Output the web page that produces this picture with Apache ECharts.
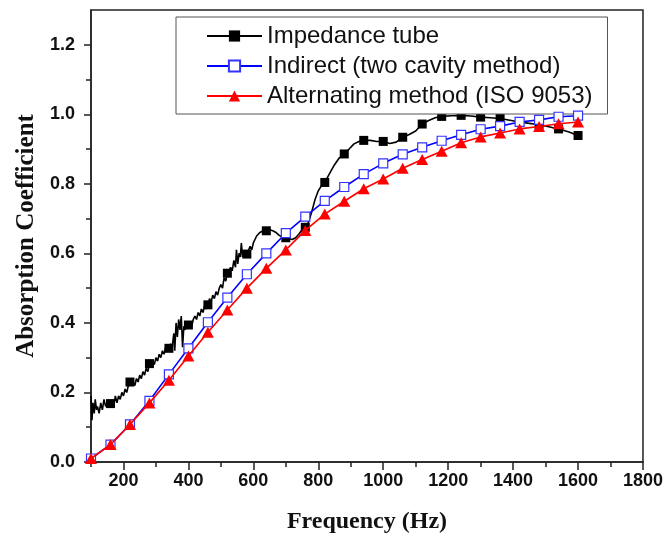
<!DOCTYPE html>
<html>
<head>
<meta charset="utf-8">
<script src="https://cdn.jsdelivr.net/npm/echarts@6/dist/echarts.min.js"></script>
<style>
  html, body { margin: 0; padding: 0; background: #fff; }
  #main { width: 666px; height: 541px; }
</style>
</head>
<body>
<div id="main"></div>
<script>
// impedance tube: dense noisy measurement (Hz, alpha)
var impFreq = [100, 103, 106, 110, 113, 117, 120, 125, 130, 135, 140, 145, 150, 155, 160, 165, 170, 175, 180, 185,
  190, 195, 200, 205, 210, 215, 220, 225, 230, 235, 240, 245, 250, 255, 260, 265, 270, 275, 280, 285,
  290, 295, 300, 305, 310, 315, 320, 325, 330, 335, 340, 345, 350, 355, 358, 362, 366, 370, 374, 378,
  382, 386, 390, 395, 400, 405, 410, 415, 420, 425, 430, 435, 440, 445, 450, 455, 460, 465, 470, 475,
  480, 485, 490, 495, 500, 505, 510, 515, 520, 525, 530, 535, 540, 545, 548, 552, 556, 560, 563, 567,
  571, 575, 580, 585, 590, 595, 600, 605, 610, 615, 620, 630, 640, 650, 660, 670, 680, 690, 700, 710,
  720, 730, 740, 750, 760, 770, 780, 790, 800, 810, 820, 835, 850, 865, 880, 895, 910, 925, 940, 960,
  980, 1000, 1020, 1040, 1060, 1080, 1100, 1120, 1140, 1160, 1180, 1210, 1240, 1270, 1300, 1330, 1360, 1390, 1420, 1450,
  1480, 1510, 1540, 1570, 1600];
var impVal = [0.19, 0.12, 0.17, 0.14, 0.18, 0.15, 0.16, 0.14, 0.17, 0.15, 0.18, 0.16, 0.17, 0.16, 0.168, 0.18, 0.16, 0.19, 0.17, 0.19,
  0.18, 0.20, 0.19, 0.21, 0.20, 0.22, 0.23, 0.22, 0.23, 0.22, 0.24, 0.23, 0.25, 0.24, 0.26, 0.25, 0.27, 0.26, 0.283, 0.28,
  0.29, 0.28, 0.30, 0.29, 0.31, 0.30, 0.32, 0.31, 0.33, 0.32, 0.327, 0.34, 0.33, 0.37, 0.32, 0.40, 0.36, 0.41, 0.38, 0.42,
  0.33, 0.39, 0.38, 0.40, 0.394, 0.40, 0.39, 0.41, 0.42, 0.41, 0.43, 0.42, 0.44, 0.43, 0.45, 0.44, 0.452, 0.47, 0.46, 0.48,
  0.47, 0.49, 0.48, 0.50, 0.51, 0.50, 0.53, 0.52, 0.543, 0.54, 0.56, 0.55, 0.58, 0.56, 0.61, 0.57, 0.60, 0.59, 0.63, 0.59,
  0.60, 0.59, 0.598, 0.60, 0.62, 0.61, 0.63, 0.64, 0.65, 0.655, 0.66, 0.665, 0.665, 0.668, 0.665, 0.66, 0.652, 0.646, 0.645, 0.642,
  0.64, 0.645, 0.655, 0.668, 0.675, 0.69, 0.72, 0.755, 0.78, 0.795, 0.804, 0.83, 0.855, 0.875, 0.886, 0.90, 0.915, 0.922, 0.925, 0.925,
  0.922, 0.922, 0.916, 0.92, 0.934, 0.942, 0.952, 0.972, 0.982, 0.99, 0.994, 0.996, 0.997, 0.995, 0.992, 0.99, 0.988, 0.983, 0.978, 0.974,
  0.97, 0.964, 0.958, 0.95, 0.939];

// indirect & alternating methods, one point every 60 Hz
var methodFreq = [100, 160, 220, 280, 340, 400, 460, 520, 580, 640, 700, 760, 820, 880, 940, 1000,
  1060, 1120, 1180, 1240, 1300, 1360, 1420, 1480, 1540, 1600];
var indirectVal = [0.01, 0.05, 0.108, 0.176, 0.252, 0.327, 0.402, 0.473, 0.54, 0.60, 0.658, 0.706, 0.751, 0.791, 0.828, 0.859,
  0.885, 0.905, 0.924, 0.941, 0.957, 0.966, 0.978, 0.984, 0.993, 0.996];
var alternatingVal = [0.01, 0.05, 0.108, 0.17, 0.235, 0.305, 0.373, 0.437, 0.50, 0.557, 0.61, 0.666, 0.713, 0.75, 0.786, 0.814,
  0.845, 0.87, 0.894, 0.918, 0.935, 0.946, 0.958, 0.965, 0.973, 0.978];

var seriesNames = ['Impedance tube', 'Indirect (two cavity method)', 'Alternating method (ISO 9053)'];
var xMajor = [200, 400, 600, 800, 1000, 1200, 1400, 1600, 1800];
var xMinor = [100, 300, 500, 700, 900, 1100, 1300, 1500, 1700];
var yMajor = [0, 0.2, 0.4, 0.6, 0.8, 1.0, 1.2];
var yMinor = [0.1, 0.3, 0.5, 0.7, 0.9, 1.1];

function pairs(xs, ys) {
  return xs.map(function (x, i) { return [x, ys[i]]; });
}
var markerSet = {};
methodFreq.slice(1).forEach(function (f) { markerSet[f] = true; });

var axisColor = '#222';
var labelFont = {
  fontFamily: 'Liberation Sans, Arial, sans-serif',
  fontWeight: 'bold',
  fontSize: 18,
  color: '#111'
};
var titleFont = {
  fontFamily: 'Liberation Serif, Times New Roman, serif',
  fontWeight: 'bold',
  fontSize: 24,
  color: '#111'
};

var chart = echarts.init(document.getElementById('main'), null, { renderer: 'canvas' });
chart.setOption({
  animation: false,
  backgroundColor: '#fff',
  grid: {
    left: 91, right: 23, top: 10, bottom: 79,
    show: true,
    borderColor: axisColor,
    borderWidth: 1.5
  },
  legend: {
    orient: 'vertical',
    left: 176,
    top: 17,
    padding: [7, 15, 6, 30],
    itemGap: 6,
    itemWidth: 55,
    itemHeight: 14,
    backgroundColor: '#fff',
    borderColor: '#555',
    borderWidth: 1,
    textStyle: { fontFamily: 'Liberation Sans, Arial, sans-serif', fontSize: 24, color: '#111' },
    data: seriesNames
  },
  xAxis: [{
    type: 'value',
    min: 100, max: 1800, interval: 100,
    name: 'Frequency (Hz)',
    nameLocation: 'middle',
    nameGap: 48,
    nameTextStyle: titleFont,
    splitLine: { show: false },
    axisLine: { show: true, lineStyle: { color: axisColor, width: 1.5 } },
    axisTick: { show: true, customValues: xMajor, length: 8, lineStyle: { color: axisColor, width: 1.5 } },
    axisLabel: Object.assign({
      customValues: xMajor,
      margin: 10,
      formatter: function (v) { return String(v); }
    }, labelFont)
  }, {
    type: 'value',
    min: 100, max: 1800, interval: 100,
    position: 'bottom',
    splitLine: { show: false },
    axisLine: { show: false },
    axisTick: { show: true, customValues: xMinor, length: 5, lineStyle: { color: axisColor, width: 1.5 } },
    axisLabel: { show: false }
  }],
  yAxis: [{
    type: 'value',
    min: 0, max: 1.3, interval: 0.1,
    name: 'Absorption Coefficient',
    nameLocation: 'middle',
    nameGap: 49,
    nameTextStyle: Object.assign({}, titleFont, { fontSize: 25 }),
    splitLine: { show: false },
    axisLine: { show: true, lineStyle: { color: axisColor, width: 1.5 } },
    axisTick: { show: true, customValues: yMajor, length: 7, lineStyle: { color: axisColor, width: 1.5 } },
    axisLabel: Object.assign({
      customValues: yMajor,
      margin: 16,
      formatter: function (v) { return v.toFixed(1); }
    }, labelFont)
  }, {
    type: 'value',
    min: 0, max: 1.3, interval: 0.1,
    position: 'left',
    splitLine: { show: false },
    axisLine: { show: false },
    axisTick: { show: true, customValues: yMinor, length: 5, lineStyle: { color: axisColor, width: 1.5 } },
    axisLabel: { show: false }
  }],
  series: [{
    name: seriesNames[0],
    type: 'line',
    data: pairs(impFreq, impVal),
    symbol: 'rect',
    showAllSymbol: true,
    symbolSize: function (v) { return markerSet[v[0]] ? 9 : 0; },
    lineStyle: { color: '#000', width: 1.6 },
    itemStyle: { color: '#000' },
    z: 3
  }, {
    name: seriesNames[1],
    type: 'line',
    data: pairs(methodFreq, indirectVal),
    symbol: 'rect',
    symbolSize: 9,
    showAllSymbol: true,
    lineStyle: { color: '#0000ff', width: 1.6 },
    itemStyle: { color: '#fff', borderColor: '#3333ff', borderWidth: 1.2 },
    z: 4
  }, {
    name: seriesNames[2],
    type: 'line',
    data: pairs(methodFreq, alternatingVal),
    symbol: 'triangle',
    symbolSize: [12, 11],
    showAllSymbol: true,
    lineStyle: { color: '#ff0000', width: 1.6 },
    itemStyle: { color: '#ff0000' },
    z: 5
  }]
});
</script>
</body>
</html>
